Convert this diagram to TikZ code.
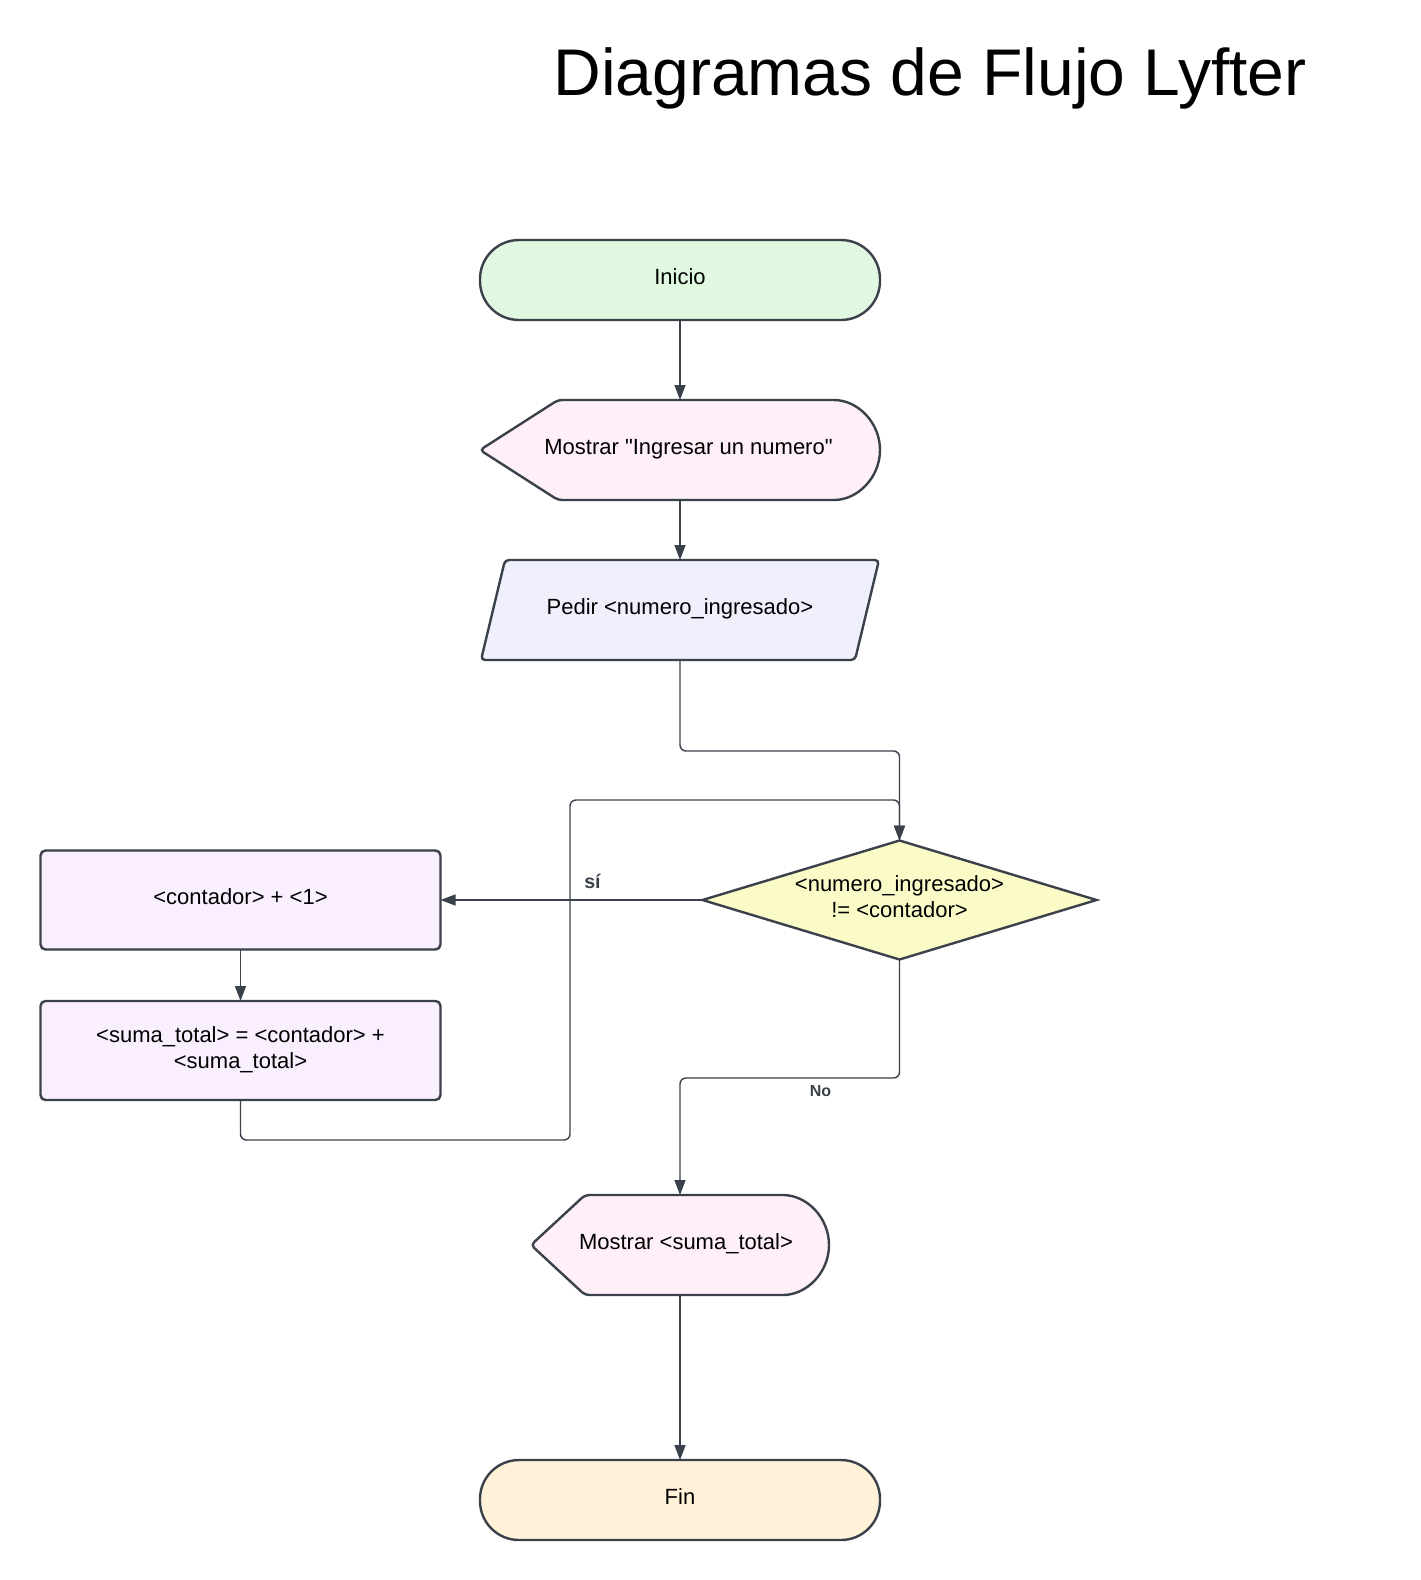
\documentclass[tikz,border=0pt]{standalone}
\usepackage{fontspec}
\setmainfont{Liberation Sans}[Ligatures=TeXOff]
\usetikzlibrary{shapes.geometric, arrows.meta, backgrounds}

\definecolor{linea}{HTML}{3A414A}
\definecolor{inicioc}{HTML}{E1F9E1}
\definecolor{mostrarc}{HTML}{FEEFF8}
\definecolor{pedirc}{HTML}{F0F0FD}
\definecolor{procesoc}{HTML}{FAEFFE}
\definecolor{decisionc}{HTML}{FBFBC8}
\definecolor{finc}{HTML}{FFF2D9}

\tikzset{
  texto/.style={font=\fontsize{11}{13}\selectfont, text depth=3pt},
  base/.style={texto, draw=linea, line width=1.2pt, align=center, outer sep=0pt},
  terminal/.style={base, rectangle, rounded corners=19.5pt, minimum width=200pt, minimum height=40pt},
  pantalla/.style={rectangle, draw=none, outer sep=0pt, inner sep=0pt, minimum width=200pt, minimum height=50pt},
  forma/.style={draw=linea, line width=1.2pt, rounded corners=2pt},
  decision/.style={base, diamond, shape aspect=3.3, inner sep=0pt, minimum width=197pt, minimum height=59.5pt, fill=decisionc},
  proceso/.style={base, rectangle, rounded corners=2.5pt, minimum width=200pt, minimum height=49.5pt, fill=procesoc},
  flecha/.style={draw=linea, line width=0.7pt, -{Triangle[length=7.5pt,width=5.5pt]}, rounded corners=3pt},
  etiqueta/.style={font=\bfseries\fontsize{9.8}{11}\selectfont, text=linea},
}

\begin{document}
\begin{tikzpicture}[x=0.5pt, y=-0.5pt]
\useasboundingbox (0,0) rectangle (1420,1580);
% Titulo
\node[anchor=base, font=\fontsize{33}{40}\selectfont] (titulo) at (930,95) {Diagramas de Flujo Lyfter};
% Nodos del flujo
\node[terminal, fill=inicioc] (inicio) at (680,280) {Inicio};
\node[pantalla, label={[texto, xshift=4.25pt]center:Mostrar "Ingresar un numero"}] (mostrar) at (680,450) {};
\node[pantalla, minimum width=199pt, label={[texto]center:Pedir <numero\_ingresado>}] (pedir) at (680,610) {};
\node[decision] (cond) at (899.5,900) {<numero\_ingresado>\\!= <contador>};
\node[proceso] (contador) at (240.5,900) {<contador> + <1>};
\node[proceso] (suma) at (240.5,1050.5) {<suma\_total> = <contador> +\\<suma\_total>};
\node[pantalla, minimum width=149pt, label={[texto, xshift=3pt]center:Mostrar <suma\_total>}] (mostrarsuma) at (680,1245) {};
\node[terminal, fill=finc] (fin) at (680,1500) {Fin};
% Formas dibujadas a mano
\begin{scope}[on background layer]
  \filldraw[forma, fill=mostrarc] (mostrar.west) -- ([xshift=39pt]mostrar.north west) -- ([xshift=-25pt]mostrar.north east) arc[start angle=90, end angle=-90, radius=25pt] -- ([xshift=39pt]mostrar.south west) -- cycle;
  \filldraw[forma, fill=pedirc] ([xshift=12pt]pedir.north west) -- (pedir.north east) -- ([xshift=-12pt]pedir.south east) -- (pedir.south west) -- cycle;
  \filldraw[forma, fill=mostrarc] (mostrarsuma.west) -- ([xshift=27pt]mostrarsuma.north west) -- ([xshift=-25pt]mostrarsuma.north east) arc[start angle=90, end angle=-90, radius=25pt] -- ([xshift=27pt]mostrarsuma.south west) -- cycle;
\end{scope}
% Conectores
\coordinate (codo1) at (680,751);
\coordinate (retorno) at (570,1140);
\coordinate (arriba) at (570,800);
\coordinate (codo2) at (680,1078);
\draw[flecha] (inicio.south) -- (mostrar.north);
\draw[flecha] (mostrar.south) -- (pedir.north);
\draw[flecha] (pedir.south) -- (codo1) -| (cond.north);
\draw[flecha] (cond.west) -- node[etiqueta, pos=0.42, above=2pt] {sí} (contador.east);
\draw[flecha] (contador.south) -- (suma.north);
\draw[flecha] (suma.south) |- (retorno) -- (arriba) -| (cond.north);
\draw[flecha] (cond.south) |- node[etiqueta, font=\bfseries\fontsize{8}{10}\selectfont, pos=0.68, below] {No} (codo2) -- (mostrarsuma.north);
\draw[flecha] (mostrarsuma.south) -- (fin.north);
\end{tikzpicture}
\end{document}
